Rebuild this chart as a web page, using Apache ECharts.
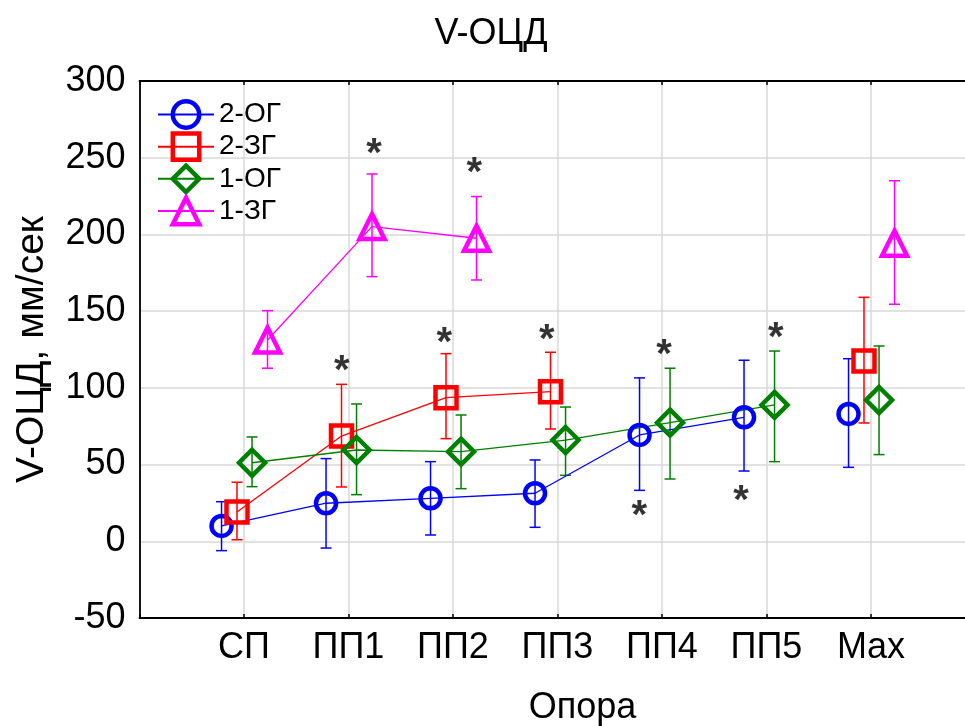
<!DOCTYPE html>
<html><head><meta charset="utf-8">
<script src="https://cdn.jsdelivr.net/npm/echarts@6/dist/echarts.min.js"></script>
<style>html,body{margin:0;padding:0;background:#fff}#c{width:965px;height:726px}</style>
</head><body><div id="c"></div>
<script>
const categories = ['СП','ПП1','ПП2','ПП3','ПП4','ПП5','Max'];
const seriesNames = ['2-ОГ','2-ЗГ','1-ОГ','1-ЗГ'];

const mean2OG = [10, 24.8, 28, 31.3, 69.3, 80.8, 83];
const low2OG  = [-6.1, -4.4, 4.1, 9.1, 33.2, 45.8, 48.2];
const high2OG = [25.8, 53.9, 51.9, 53, 106.5, 118, 119];

const mean2ZG = [19.1, 68.6, 93.6, 97.5, null, null, 117.5];
const low2ZG  = [1, 35.4, 66.9, 73.2, null, null, 77.1];
const high2ZG = [38.5, 102.3, 122.3, 123.2, null, null, 159];

const mean1OG = [51.2, 59.5, 58.4, 66, 77.3, 88.9, 92.1];
const low1OG  = [35.6, 30.4, 34.3, 43, 40.6, 51.9, 56.5];
const high1OG = [68, 89.5, 82.3, 87.5, 112.8, 124, 127.3];

const mean1ZG = [131.2, 205.1, 197.5, null, null, null, 194.3];
const low1ZG  = [112.8, 172.5, 170.3, null, null, null, 154.5];
const high1ZG = [150.3, 239.4, 224.7, null, null, null, 235];

// significance markers: position along category axis (1 = СП) and value
const starX = [2.244, 3.204, 1.935, 2.917, 3.897, 5.019, 4.783, 5.756, 6.09];
const starY = [257.7, 245.3, 116.2, 134.5, 136.4, 126.7, 21.5, 31.3, 137.7];

const yTicks = [-50, 0, 50, 100, 150, 200, 250, 300];

const FONT = '"Liberation Sans", Arial, sans-serif';
const groups = [
  {name: seriesNames[0], mean: mean2OG, low: low2OG, high: high2OG, color: '#0000ff', off: -0.215, symbol: 'circle', size: 20},
  {name: seriesNames[1], mean: mean2ZG, low: low2ZG, high: high2ZG, color: '#ff0000', off: -0.067, symbol: 'rect', size: 21},
  {name: seriesNames[2], mean: mean1OG, low: low1OG, high: high1OG, color: '#008000', off: 0.077, symbol: 'diamond', size: 26},
  {name: seriesNames[3], mean: mean1ZG, low: low1ZG, high: high1ZG, color: '#ff00ff', off: 0.225, symbol: 'triangle', size: 25}
];

const series = [];
groups.forEach(g => {
  const errData = [];
  g.low.forEach((l, i) => { if (l != null) errData.push([i + 1 + g.off, l, g.high[i]]); });
  series.push({
    type: 'custom', name: g.name + ' err', silent: true, z: 2,
    encode: {x: 0, y: [1, 2]},
    data: errData,
    renderItem: (params, api) => {
      const x = api.value(0);
      const p1 = api.coord([x, api.value(1)]);
      const p2 = api.coord([x, api.value(2)]);
      const w = 5.5;
      const st = {stroke: g.color, lineWidth: 1.5};
      return {type: 'group', children: [
        {type: 'line', shape: {x1: p1[0], y1: p1[1], x2: p2[0], y2: p2[1]}, style: st},
        {type: 'line', shape: {x1: p1[0] - w, y1: p1[1], x2: p1[0] + w, y2: p1[1]}, style: st},
        {type: 'line', shape: {x1: p2[0] - w, y1: p2[1], x2: p2[0] + w, y2: p2[1]}, style: st}
      ]};
    }
  });
  const pts = [];
  g.mean.forEach((v, i) => {
    if (i === categories.length - 1) pts.push([i + 0.5, '-']);
    pts.push([i + 1 + g.off, v == null ? '-' : v]);
  });
  series.push({
    type: 'line', name: g.name, z: 3, data: pts, connectNulls: false,
    symbol: g.symbol, symbolSize: g.size, showSymbol: true, animation: false,
    itemStyle: {color: 'rgba(255,255,255,0)', borderColor: g.color, borderWidth: 4.5},
    lineStyle: {color: g.color, width: 1.3},
    emphasis: {disabled: true}
  });
});

series.push({
  type: 'scatter', name: 'stars', silent: true, z: 5, symbolSize: 1,
  itemStyle: {color: 'rgba(0,0,0,0)'},
  data: starX.map((x, i) => [x, starY[i]]),
  label: {show: true, position: 'inside', formatter: '*', fontSize: 40, fontWeight: 'bold', color: '#000', fontFamily: FONT, offset: [0, 9]}
});

const chart = echarts.init(document.getElementById('c'), null, {renderer: 'canvas'});
chart.setOption({
  animation: false,
  backgroundColor: '#fff',
  graphic: [{type: 'text', x: 491, y: 34, style: {text: 'V-ОЦД', font: '36px ' + FONT, fill: '#000', textAlign: 'center', textVerticalAlign: 'middle'}}],
  grid: {left: 139.5, top: 81, right: -10.5, bottom: 108, outerBoundsMode: 'none', containLabel: false},
  legend: {
    orient: 'vertical', left: 152, top: 94, itemWidth: 56, itemHeight: 33, itemGap: 1.3,
    data: seriesNames,
    itemStyle: {borderWidth: 4.5},
    textStyle: {fontSize: 28, color: '#000', fontFamily: FONT},
    selectedMode: false
  },
  xAxis: [{
    type: 'value', min: 0, max: 8, interval: 1, position: 'bottom',
    name: 'Опора', nameLocation: 'middle', nameGap: 72,
    nameTextStyle: {fontSize: 36, color: '#000', fontFamily: FONT, padding: [0, 0, 0, 50]},
    axisLine: {show: true, onZero: false, lineStyle: {color: '#000', width: 1.8}},
    axisTick: {show: true, inside: true, length: 4, lineStyle: {color: '#000', width: 1.5}},
    axisLabel: {fontSize: 36, color: '#000', fontFamily: FONT, margin: 12, showMaxLabel: false,
      formatter: v => categories[v - 1] || ''},
    splitLine: {show: true, lineStyle: {color: '#d9d9d9', width: 1.5}}
  }, {
    type: 'value', min: 0, max: 8, interval: 1, position: 'top',
    axisLine: {show: true, onZero: false, lineStyle: {color: '#000', width: 1.8}},
    axisTick: {show: true, inside: true, length: 4, lineStyle: {color: '#000', width: 1.5}},
    axisLabel: {show: false}, splitLine: {show: false}
  }],
  yAxis: {
    type: 'value', min: yTicks[0], max: yTicks[yTicks.length - 1], interval: 50,
    name: 'V-ОЦД, мм/сек', nameLocation: 'middle', nameGap: 88,
    nameTextStyle: {fontSize: 39, color: '#000', fontFamily: FONT},
    axisLine: {show: true, onZero: false, lineStyle: {color: '#000', width: 1.8}},
    axisTick: {show: false},
    axisLabel: {fontSize: 36, color: '#000', fontFamily: FONT, margin: 14},
    splitLine: {show: true, lineStyle: {color: '#d9d9d9', width: 1.5}}
  },
  series: series
});
</script></body></html>
